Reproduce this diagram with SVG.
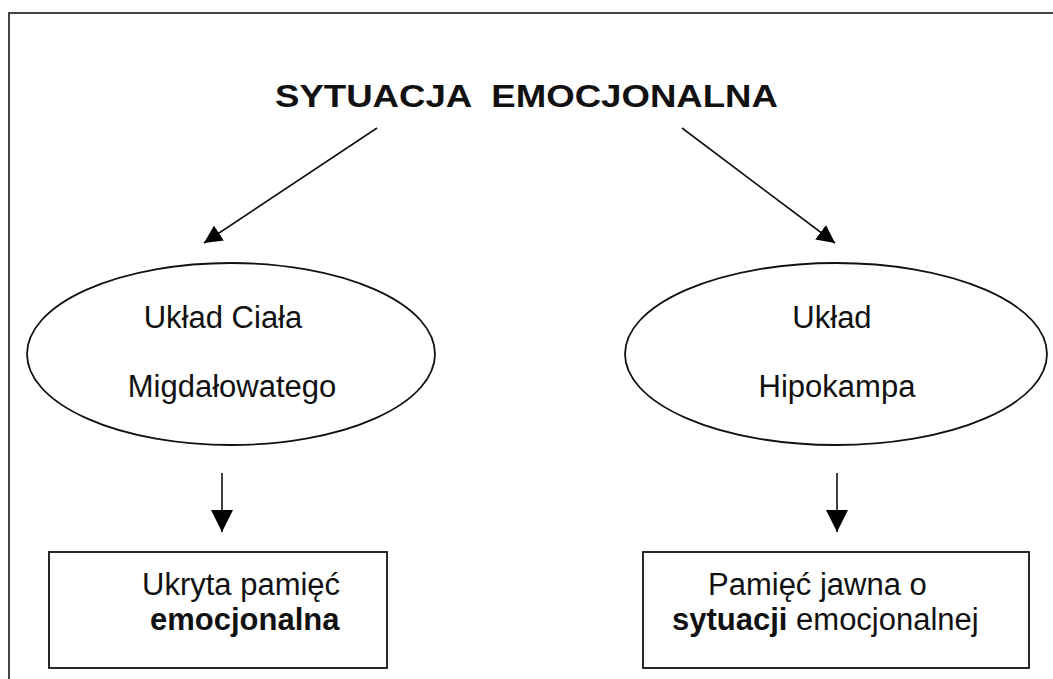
<svg xmlns="http://www.w3.org/2000/svg" width="1053" height="679" viewBox="0 0 1053 679">
<defs>
<style>
.t{font-family:"Liberation Sans",Arial,sans-serif;font-size:31px;fill:#111}
.b{font-weight:bold}
.shape{fill:#fff;stroke:#111;stroke-width:1.8}
.conn{stroke:#111;stroke-width:1.6;fill:none}
</style>
<marker id="ah" viewBox="0 0 10 10" refX="10" refY="5" markerWidth="18" markerHeight="18" markerUnits="userSpaceOnUse" orient="auto">
<path d="M0,0 L10,5 L0,10 z" fill="#000"/>
</marker>
<marker id="ah2" viewBox="0 0 10 10" refX="10" refY="5" markerWidth="22" markerHeight="22" markerUnits="userSpaceOnUse" orient="auto">
<path d="M0,0 L10,5 L0,10 z" fill="#000"/>
</marker>
</defs>
<rect width="1053" height="679" fill="#fff"/>
<rect x="9" y="13" width="1100" height="720" fill="none" stroke="#444" stroke-width="2"/>

<g id="title">
<text class="t b" x="275" y="107" font-size="34" textLength="503" lengthAdjust="spacingAndGlyphs" xml:space="preserve" style="white-space:pre">SYTUACJA  EMOCJONALNA</text>
</g>

<g id="connectors">
<line class="conn" x1="377" y1="128" x2="204" y2="243" marker-end="url(#ah)"/>
<line class="conn" x1="682" y1="128" x2="835" y2="243" marker-end="url(#ah)"/>
<line class="conn" x1="222" y1="473" x2="222" y2="532" marker-end="url(#ah2)"/>
<line class="conn" x1="837" y1="473" x2="837" y2="532" marker-end="url(#ah2)"/>
</g>

<g id="amygdala">
<ellipse class="shape" cx="231" cy="354" rx="204" ry="91"/>
<text class="t" x="223" y="328" text-anchor="middle">Układ Ciała</text>
<text class="t" x="232" y="397" text-anchor="middle">Migdałowatego</text>
</g>

<g id="hippocampus">
<ellipse class="shape" cx="836" cy="354" rx="211" ry="91"/>
<text class="t" x="832" y="328" text-anchor="middle">Układ</text>
<text class="t" x="837" y="397" text-anchor="middle">Hipokampa</text>
</g>

<g id="implicit">
<rect class="shape" x="49" y="552" width="338" height="116"/>
<text class="t" x="142" y="595">Ukryta pamięć</text>
<text class="t b" x="150" y="630">emocjonalna</text>
</g>

<g id="explicit">
<rect class="shape" x="643" y="552" width="386" height="116"/>
<text class="t" x="708" y="595">Pamięć jawna o</text>
<text class="t" x="672" y="630"><tspan class="b">sytuacji</tspan> emocjonalnej</text>
</g>
</svg>
